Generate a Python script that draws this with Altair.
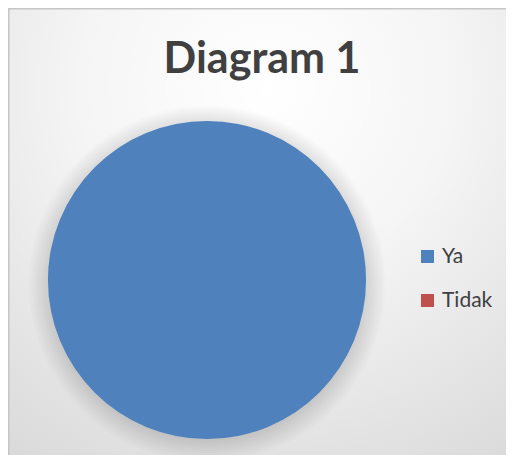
import altair as alt
import pandas as pd

categories = ["Ya", "Tidak"]
values = [100, 0]
colors = ["#4F81BD", "#C0504D"]

df = pd.DataFrame({"kategori": categories, "nilai": values})
bg_df = pd.DataFrame({"k": [0]})

W, H = 498, 447
CX, CY, R = 199, 272, 159
SR = R + 20

bg_grad = {
    "gradient": "radial",
    "x1": 0.5, "y1": 0.2, "r1": 0.0,
    "x2": 0.5, "y2": 0.2, "r2": 0.9,
    "stops": [
        {"offset": 0.0, "color": "#ffffff"},
        {"offset": 0.4, "color": "#f5f5f5"},
        {"offset": 1.0, "color": "#d8d8d8"},
    ],
}

background = alt.Chart(bg_df).mark_rect(
    fill=bg_grad, stroke="#c6c6c6", strokeWidth=1.5
).encode(
    x=alt.value(0.75), x2=alt.value(W + 20),
    y=alt.value(0.75), y2=alt.value(H + 20),
)

shadow_grad = {
    "gradient": "radial",
    "x1": 0.5, "y1": 0.5, "r1": 0.0,
    "x2": 0.5, "y2": 0.5, "r2": 0.5,
    "stops": [
        {"offset": (R - 12) / SR, "color": "rgba(0,0,0,0.2)"},
        {"offset": 1.0, "color": "rgba(0,0,0,0)"},
    ],
}

shadow = alt.Chart(bg_df).mark_arc(
    fill=shadow_grad, x=CX, y=CY + 4, outerRadius=SR,
    theta=0, theta2=6.2832,
).encode(opacity=alt.value(1))

pie = alt.Chart(df).mark_arc(x=CX, y=CY, outerRadius=R, stroke=None).encode(
    theta=alt.Theta("nilai:Q", stack=True),
    color=alt.Color(
        "kategori:N",
        scale=alt.Scale(domain=categories, range=colors),
        sort=categories,
        legend=alt.Legend(
            title=None,
            orient="none",
            legendX=409,
            legendY=238,
            symbolType="square",
            symbolSize=169,
            symbolStrokeWidth=0,
            labelFontSize=21,
            labelFont="Lato",
            labelColor="#404040",
            rowPadding=22,
            labelOffset=4,
        ),
    ),
    order=alt.Order("nilai:Q", sort="descending"),
)

chart = alt.layer(background, shadow, pie).properties(
    width=W,
    height=H,
    title=alt.TitleParams(
        "Diagram 1",
        fontSize=43,
        font="Lato",
        fontWeight="bold",
        color="#404040",
        anchor="middle",
        frame="group",
        dx=5,
        offset=-74,
        orient="top",
    ),
    padding=0,
    autosize=alt.AutoSizeParams(type="none"),
).configure_view(stroke=None)

chart.save("out.html", embed_options={"renderer": "svg", "actions": False})
